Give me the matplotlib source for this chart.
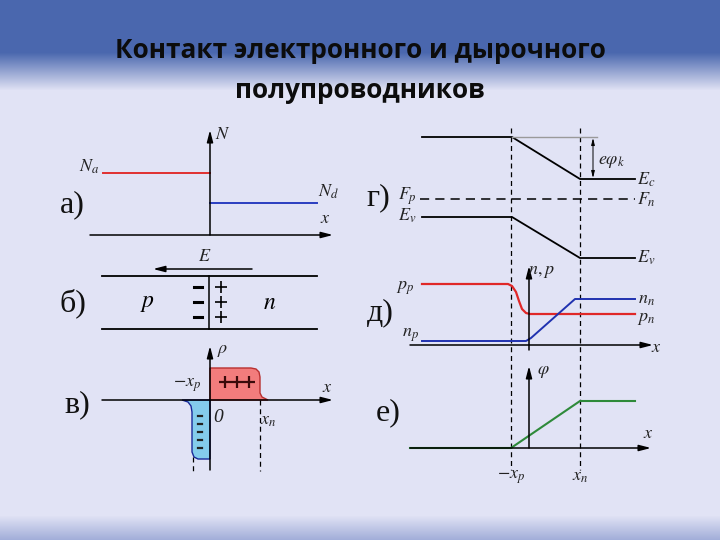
"""
p-n junction slide: contact of electron and hole semiconductors.
Six schematic panels drawn in pixel coordinates of a 720x540 slide.
"""

import numpy as np
import matplotlib
matplotlib.use('Agg')
import matplotlib.pyplot as plt

plt.rcParams['mathtext.fontset'] = 'stix'

# ---- data (pixel coords of the slide) ----
title_lines = ['Контакт электронного и дырочного', 'полупроводников']

# a) doping profile
na_x, na_y = [103, 210], [173, 173]
nd_x, nd_y = [210, 317], [203, 203]

# b) p-n structure
bar_x = [102, 317]
bar_y = [276, 329]
minus_y = [287, 302, 317]
plus_y = [287, 302, 317]

# c) space charge
pos_charge_x = [210, 210, 251, 256, 259, 260, 260, 262, 268]
pos_charge_y = [400, 368, 368, 369, 372, 377, 393, 397, 400]
neg_charge_x = [182, 188, 191, 192, 192, 194, 198, 210, 210]
neg_charge_y = [400, 402, 406, 412, 452, 457, 459, 459, 400]
neg_dash_y = [416, 424, 432, 440, 448]
pos_mark_x = [225, 237, 249]

# d) band diagram
ec_x, ec_y = [422, 512, 580, 635], [137, 137, 179, 179]
ev_x, ev_y = [422, 512, 580, 635], [217, 217, 258, 258]
fermi_x, fermi_y = [420, 635], [199, 199]

# e) carrier concentrations
p_x = [422, 508, 512, 516, 519, 522, 526, 530, 635]
p_y = [284, 284, 286, 292, 301, 309, 313, 314, 314]
n_x = [422, 526, 531, 575, 635]
n_y = [341, 341, 338, 299, 299]

# f) potential
phi_x = [410, 511, 580, 635]
phi_y = [448, 448, 401, 401]

# depletion edges for right column
edge_x = [511, 580]

# ---- figure ----
fig = plt.figure(figsize=(7.2, 5.4), dpi=100)
ax = fig.add_axes([0, 0, 1, 1])
ax.set_xlim(0, 720)
ax.set_ylim(540, 0)
ax.axis('off')

# slide background: blue band on top, lavender body, blue fade at bottom
rows = np.arange(540)
top = np.array([74, 103, 174]) / 255
body = np.array([225, 227, 245]) / 255
bottom = np.array([160, 172, 216]) / 255
t1 = np.clip((rows - 52) / 38, 0, 1)[:, None]
t2 = np.clip((rows - 515) / 25, 0, 1)[:, None]
grad = top * (1 - t1) + body * t1
grad = grad * (1 - t2) + bottom * t2
ax.imshow(grad[:, None, :].repeat(2, axis=1), extent=[0, 720, 540, 0],
          aspect='auto', zorder=0)

ax.text(360, 50, title_lines[0], ha='center', va='center', fontsize=18.8,
        fontweight='bold', family='Open Sans', color='#0c0c0c')
ax.text(360, 90, title_lines[1], ha='center', va='center', fontsize=18.8,
        fontweight='bold', family='Open Sans', color='#0c0c0c')

serif = 'Liberation Serif'
lab = dict(fontsize=13, ha='center', va='center', color='#222222')
arr = dict(arrowstyle='-|>,head_length=0.7,head_width=0.18', color='black',
           lw=1.1, shrinkA=0, shrinkB=0)


def axis_arrow(x0, y0, x1, y1):
    ax.annotate('', xy=(x1, y1), xytext=(x0, y0), arrowprops=arr)


def panel_label(x, y, s):
    ax.text(x, y, s, fontsize=23, family=serif, ha='center', va='center',
            color='#111111')


# а)
axis_arrow(90, 235, 333, 235)
axis_arrow(210, 235, 210, 130)
ax.plot(na_x, na_y, color='#e03030', lw=1.4)
ax.plot(nd_x, nd_y, color='#2a3ec0', lw=1.4)
ax.text(223, 134, '$N$', **lab)
ax.text(89, 167, '$N_a$', **lab)
ax.text(329, 192, '$N_d$', **lab)
ax.text(325, 218, '$x$', **lab)
panel_label(72, 205, 'а)')

# б)
ax.annotate('', xy=(153, 269), xytext=(252, 269), arrowprops=arr)
ax.text(205, 256, '$E$', **lab)
for yb in bar_y:
    ax.plot(bar_x, [yb, yb], color='black', lw=1.3)
ax.plot([209, 209], bar_y, color='black', lw=1.1)
for ym in minus_y:
    ax.plot([194, 202], [ym, ym], color='black', lw=2.2)
ax.plot([221] * len(plus_y), plus_y, ls='none', marker='+', ms=8,
        mew=1.2, color='black')
ax.text(147, 302, '$p$', fontsize=17, ha='center', va='center')
ax.text(270, 302, '$n$', fontsize=17, ha='center', va='center')
panel_label(73, 303, 'б)')

# в)
ax.fill(pos_charge_x, pos_charge_y, facecolor='#f27c7c', edgecolor='#b83030',
        lw=1.0, zorder=2)
ax.fill(neg_charge_x, neg_charge_y, facecolor='#84ccec', edgecolor='#1a2a9a',
        lw=1.0, zorder=2)
for yd in neg_dash_y:
    ax.plot([198, 202], [yd, yd], color='#222222', lw=1.6, zorder=3)
ax.plot(pos_mark_x, [382] * len(pos_mark_x), ls='none', marker='+', ms=8.5,
        mew=1.6, color='#3a0a0a', zorder=4)
axis_arrow(102, 400, 333, 400)
axis_arrow(210, 470, 210, 346)
ax.plot([193, 193], [457, 471], color='black', lw=0.9, ls=(0, (4, 3)))
ax.plot([260, 260], [400, 471], color='black', lw=0.9, ls=(0, (4, 3)))
ax.text(223, 350, r'$\rho$', **lab)
ax.text(187, 385, '$-x_p$', **lab)
ax.text(218, 417, '0', fontsize=14, family=serif, style='italic',
        ha='center', va='center', color='#222222')
ax.text(268, 420, '$x_n$', **lab)
ax.text(327, 387, '$x$', **lab)
panel_label(77, 405, 'в)')

# right column dashed edges
for xe in edge_x:
    ax.plot([xe, xe], [128, 470], color='black', lw=0.9, ls=(0, (4, 3)),
            zorder=1)

# г)
ax.plot(ec_x, ec_y, color='black', lw=1.3)
ax.plot(ev_x, ev_y, color='black', lw=1.3)
ax.plot(fermi_x, fermi_y, color='black', lw=1.1, ls=(0, (6, 4)))
ax.plot([512, 597], [137, 137], color='#9a9a9a', lw=1.0)
ax.annotate('', xy=(593, 138), xytext=(593, 178),
            arrowprops=dict(arrowstyle='<|-|>,head_length=0.4,head_width=0.1',
                            color='black', lw=0.7, shrinkA=0, shrinkB=0))
ax.text(612, 161, r'$e\varphi_k$', **lab)
ax.text(646, 180, '$E_c$', **lab)
ax.text(646, 200, '$F_n$', **lab)
ax.text(646, 258, '$E_v$', **lab)
ax.text(407, 196, '$F_p$', **lab)
ax.text(407, 216, '$E_v$', **lab)
panel_label(378, 198, 'г)')

# д)
axis_arrow(410, 345, 653, 345)
axis_arrow(529, 350, 529, 266)
ax.plot(p_x, p_y, color='#e02828', lw=1.6)
ax.plot(n_x, n_y, color='#2032b0', lw=1.4)
ax.text(541, 271, '$n,p$', **lab)
ax.text(405, 288, '$p_p$', **lab)
ax.text(410, 335, '$n_p$', **lab)
ax.text(646, 299, '$n_n$', **lab)
ax.text(646, 318, '$p_n$', **lab)
ax.text(656, 347, '$x$', **lab)
panel_label(380, 313, 'д)')

# е)
axis_arrow(410, 448, 651, 448)
axis_arrow(529, 448, 529, 366)
ax.plot(phi_x, phi_y, color='#2e8a3a', lw=1.5)
ax.text(543, 371, r'$\varphi$', **lab)
ax.text(648, 433, '$x$', **lab)
ax.text(511, 477, '$-x_p$', **lab)
ax.text(580, 476, '$x_n$', **lab)
panel_label(388, 413, 'е)')

fig.savefig('out.png', dpi=100)
